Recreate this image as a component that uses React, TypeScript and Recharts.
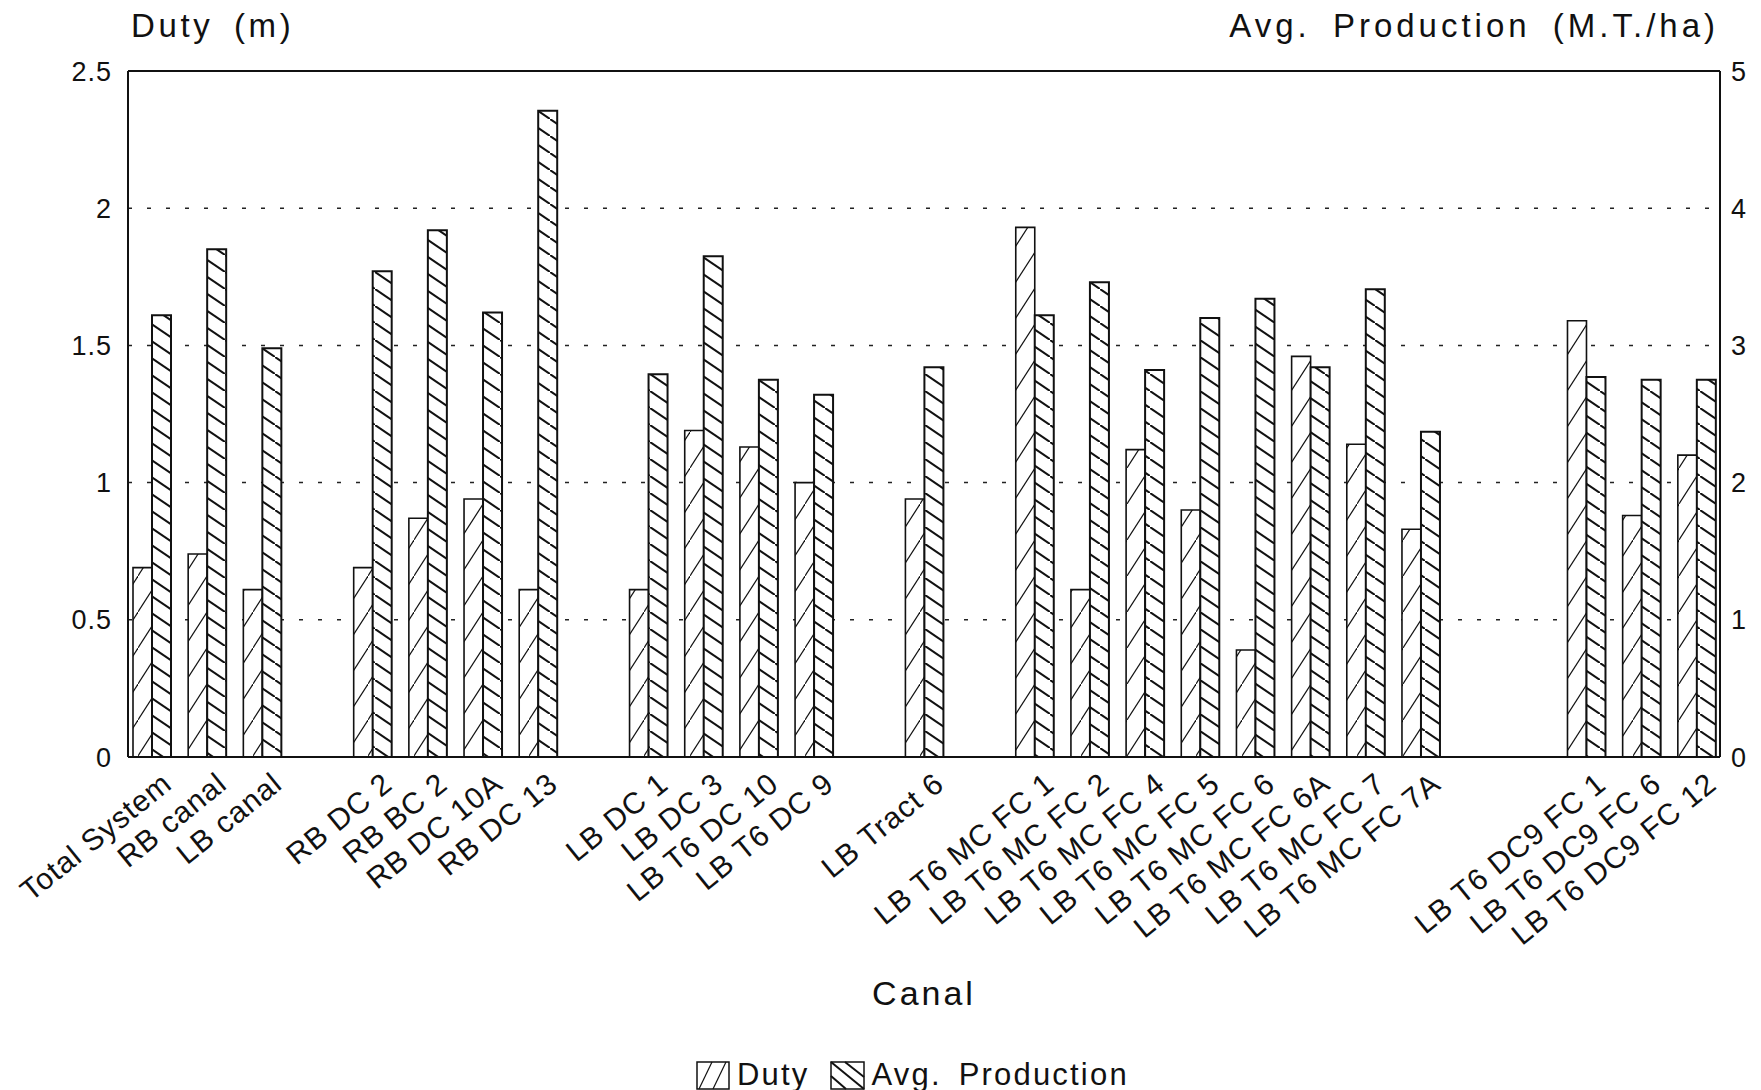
import { Bar, BarChart, CartesianGrid, ReferenceLine, XAxis, YAxis } from "recharts";

const categories = [
  "Total System",
  "RB canal",
  "LB canal",
  "",
  "RB DC 2",
  "RB BC 2",
  "RB DC 10A",
  "RB DC 13",
  "",
  "LB DC 1",
  "LB DC 3",
  "LB T6 DC 10",
  "LB T6 DC 9",
  "",
  "LB Tract 6",
  "",
  "LB T6 MC FC 1",
  "LB T6 MC FC 2",
  "LB T6 MC FC 4",
  "LB T6 MC FC 5",
  "LB T6 MC FC 6",
  "LB T6 MC FC 6A",
  "LB T6 MC FC 7",
  "LB T6 MC FC 7A",
  "",
  "",
  "LB T6 DC9 FC 1",
  "LB T6 DC9 FC 6",
  "LB T6 DC9 FC 12",
];

// Duty (m), left axis
const duty = [
  0.69, 0.74, 0.61, null, 0.69, 0.87, 0.94, 0.61, null, 0.61, 1.19, 1.13, 1.0, null, 0.94, null,
  1.93, 0.61, 1.12, 0.9, 0.39, 1.46, 1.14, 0.83, null, null, 1.59, 0.88, 1.1,
];

// Avg. Production (M.T./ha), right axis
const avgProduction = [
  3.22, 3.7, 2.98, null, 3.54, 3.84, 3.24, 4.71, null, 2.79, 3.65, 2.75, 2.64, null, 2.84, null,
  3.22, 3.46, 2.82, 3.2, 3.34, 2.84, 3.41, 2.37, null, null, 2.77, 2.75, 2.75,
];

const dutyTicks = [0, 0.5, 1, 1.5, 2, 2.5];
const productionTicks = [0, 1, 2, 3, 4, 5];

const FONT = '"Liberation Sans", Arial, sans-serif';
const INK = "#111";

const data = categories.map((name, i) => ({
  name,
  duty: duty[i],
  production: avgProduction[i],
}));

function CanalTick({ x, y, payload }: { x?: number; y?: number; payload?: { value: string } }) {
  if (!payload || !payload.value) return null;
  const ax = (x ?? 0) + 22;
  const ay = (y ?? 0) + 22;
  return (
    <text
      x={ax}
      y={ay}
      transform={`rotate(-39 ${ax} ${ay})`}
      textAnchor="end"
      fontSize={30}
      letterSpacing={1}
      fontFamily={FONT}
      fill={INK}
    >
      {payload.value}
    </text>
  );
}

const tickStyle = { fontSize: 27, fill: INK, fontFamily: FONT, letterSpacing: 1 };

export default function App() {
  return (
    <div
      style={{
        position: "absolute",
        left: 0,
        top: 0,
        width: 1761,
        height: 1090,
        background: "#fff",
        fontFamily: FONT,
        color: INK,
      }}
    >
      <BarChart
        width={1761}
        height={1090}
        data={data}
        margin={{ top: 71, right: 0, left: 68, bottom: 93 }}
        barGap={0}
        barCategoryGap={9}
      >
        <defs>
          <pattern id="dutyHatch" patternUnits="userSpaceOnUse" width={23} height={36}>
            <rect width={23} height={36} fill="#fff" />
            <line x1={-2} y1={39} x2={25} y2={-3} stroke={INK} strokeWidth={1.2} />
          </pattern>
          <pattern id="prodHatch" patternUnits="userSpaceOnUse" width={25} height={17}>
            <rect width={25} height={17} fill="#fff" />
            <line x1={-2} y1={-1.4} x2={27} y2={18.4} stroke={INK} strokeWidth={2} />
          </pattern>
        </defs>
        <CartesianGrid yAxisId="left" vertical={false} stroke="#222" strokeWidth={1.5} strokeDasharray="4 15" />
        <XAxis
          dataKey="name"
          height={240}
          interval={0}
          padding={{ left: -4, right: -4 }}
          axisLine={{ stroke: INK, strokeWidth: 2 }}
          tickLine={false}
          tick={<CanalTick />}
        />
        <YAxis
          yAxisId="left"
          width={60}
          domain={[0, 2.5]}
          ticks={dutyTicks}
          interval={0}
          tickFormatter={(v: number) => String(v)}
          axisLine={{ stroke: INK, strokeWidth: 2 }}
          tickLine={false}
          tickMargin={10}
          tick={tickStyle}
        />
        <YAxis
          yAxisId="right"
          orientation="right"
          width={41}
          domain={[0, 5]}
          ticks={productionTicks}
          interval={0}
          axisLine={{ stroke: INK, strokeWidth: 2 }}
          tickLine={false}
          tickMargin={5}
          tick={tickStyle}
        />
        <ReferenceLine yAxisId="left" y={2.5} stroke={INK} strokeWidth={2} />
        <Bar
          yAxisId="left"
          dataKey="duty"
          name="Duty"
          fill="url(#dutyHatch)"
          stroke={INK}
          strokeWidth={1.6}
          isAnimationActive={false}
        />
        <Bar
          yAxisId="right"
          dataKey="production"
          name="Avg. Production"
          fill="url(#prodHatch)"
          stroke={INK}
          strokeWidth={2}
          isAnimationActive={false}
        />
      </BarChart>

      {/* axis titles */}
      <div
        style={{
          position: "absolute",
          left: 131,
          top: 9,
          fontSize: 33,
          lineHeight: "33px",
          letterSpacing: 3.6,
          wordSpacing: 8,
          whiteSpace: "pre",
        }}
      >
        {"Duty (m)"}
      </div>
      <div
        style={{
          position: "absolute",
          right: 42,
          top: 9,
          fontSize: 33,
          lineHeight: "33px",
          letterSpacing: 4,
          wordSpacing: 9,
          whiteSpace: "pre",
        }}
      >
        {"Avg. Production (M.T./ha)"}
      </div>
      <div
        style={{
          position: "absolute",
          left: 924,
          top: 976,
          transform: "translateX(-50%)",
          fontSize: 34,
          lineHeight: "34px",
          letterSpacing: 3,
        }}
      >
        Canal
      </div>

      {/* legend */}
      <div
        style={{
          position: "absolute",
          left: 696,
          top: 1060,
          display: "flex",
          alignItems: "center",
          fontSize: 31,
          lineHeight: "30px",
          letterSpacing: 2.2,
          wordSpacing: 6,
          whiteSpace: "pre",
        }}
      >
        <svg width={34} height={29} style={{ display: "block" }}>
          <rect x={1} y={1} width={32} height={27} fill="#fff" stroke={INK} strokeWidth={1.5} />
          <line x1={3} y1={28} x2={16} y2={1} stroke={INK} strokeWidth={1.2} />
          <line x1={17} y1={28} x2={30} y2={1} stroke={INK} strokeWidth={1.2} />
        </svg>
        <span style={{ marginLeft: 7 }}>Duty</span>
        <svg width={35} height={29} style={{ display: "block", marginLeft: 20 }}>
          <rect x={1} y={1} width={33} height={27} fill="#fff" stroke={INK} strokeWidth={1.5} />
          <line x1={1} y1={1} x2={34} y2={28} stroke={INK} strokeWidth={2} />
          <line x1={15} y1={1} x2={34} y2={16} stroke={INK} strokeWidth={2} />
          <line x1={1} y1={15} x2={16} y2={28} stroke={INK} strokeWidth={2} />
        </svg>
        <span style={{ marginLeft: 7 }}>Avg. Production</span>
      </div>
    </div>
  );
}
